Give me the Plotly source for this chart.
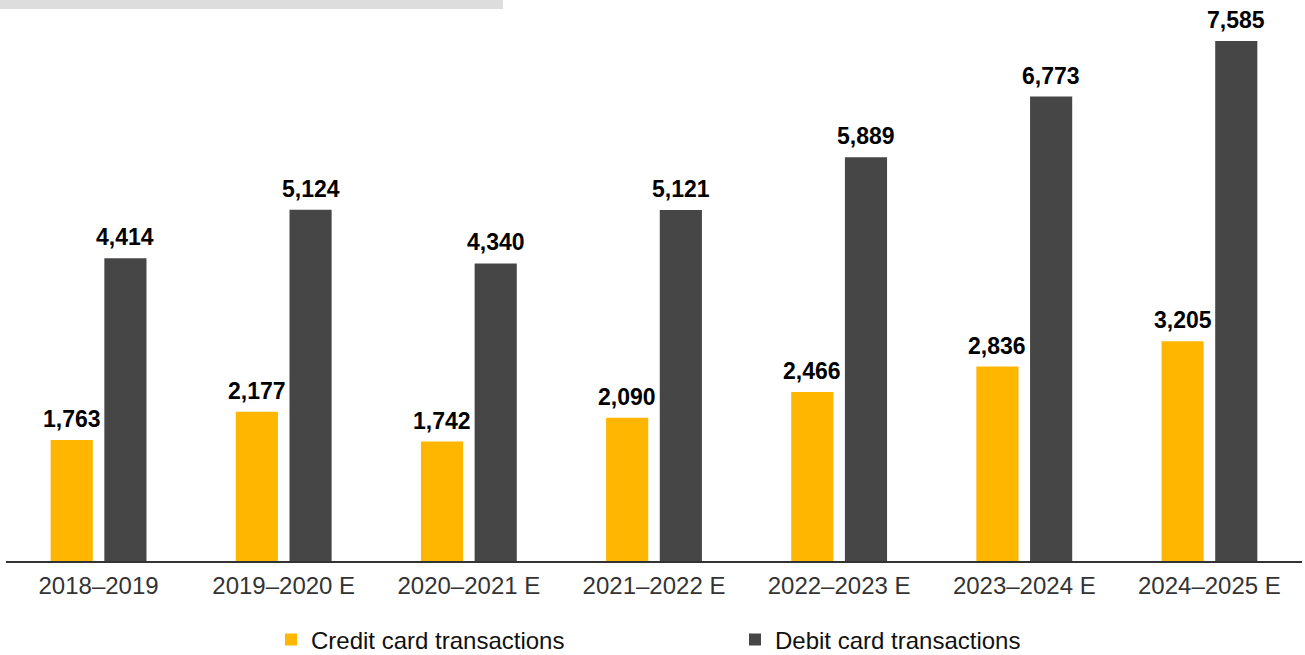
import plotly.graph_objects as go

categories = ["2018–2019", "2019–2020 E", "2020–2021 E", "2021–2022 E",
              "2022–2023 E", "2023–2024 E", "2024–2025 E"]
credit = [1763, 2177, 1742, 2090, 2466, 2836, 3205]
debit = [4414, 5124, 4340, 5121, 5889, 6773, 7585]

YELLOW = "#FFB600"
DARK = "#464646"
FONT = "Liberation Sans, Arial, Helvetica, sans-serif"

W, H = 1305, 655
ML, MR, MT, MB = 6, 3, 12, 94
BARGAP = 0.42
plot_w = W - ML - MR
slot_shift = plot_w / len(categories) * (1 - BARGAP) / 4

fig = go.Figure()
annotations = []
for name, vals, col, sgn in [("Credit card transactions", credit, YELLOW, -1),
                             ("Debit card transactions", debit, DARK, 1)]:
    fig.add_trace(go.Bar(
        x=categories, y=vals, name=name,
        marker=dict(color=col, line=dict(width=0)),
    ))
    for c, v in zip(categories, vals):
        annotations.append(dict(
            x=c, y=v, xref="x", yref="y", text=f"{v:,}", showarrow=False,
            xanchor="center", yanchor="bottom", xshift=sgn * slot_shift, yshift=6,
            font=dict(family=FONT, size=23, color="#000000", weight="bold"),
        ))

fig.update_layout(
    width=W, height=H,
    margin=dict(l=ML, r=MR, t=MT, b=MB, autoexpand=False),
    paper_bgcolor="white", plot_bgcolor="white",
    barmode="group", bargap=BARGAP, bargroupgap=0.215,
    font=dict(family=FONT, color="#333333"),
    showlegend=True,
    legend=dict(
        orientation="h", xref="container", yref="container",
        x=271/1305, xanchor="left", y=1 - 640/655, yanchor="middle",
        font=dict(family=FONT, size=24, color="#111111"),
        entrywidth=419, entrywidthmode="pixels",
        traceorder="normal", bgcolor="rgba(0,0,0,0)",
    ),
    xaxis=dict(
        range=[-0.5, 6.5], automargin=False,
        showline=True, linecolor="#333333", linewidth=1.5,
        ticks="", showgrid=False, ticklabelstandoff=2,
        tickfont=dict(family=FONT, size=24, color="#333333"),
    ),
    yaxis=dict(range=[0, 8007], visible=False, showgrid=False, automargin=False),
    annotations=annotations,
)

# grey header strip (cropped title box) at top-left
fig.add_shape(type="rect", xref="paper", yref="paper",
              x0=-ML/plot_w, x1=497/plot_w, y0=1 + 3/549, y1=1 + 12/549,
              fillcolor="#DDDDDD", line=dict(width=0), layer="below")

fig.write_html("out.html", config={"displayModeBar": False},
               post_script="document.body.style.margin='0';document.body.style.padding='0';")
